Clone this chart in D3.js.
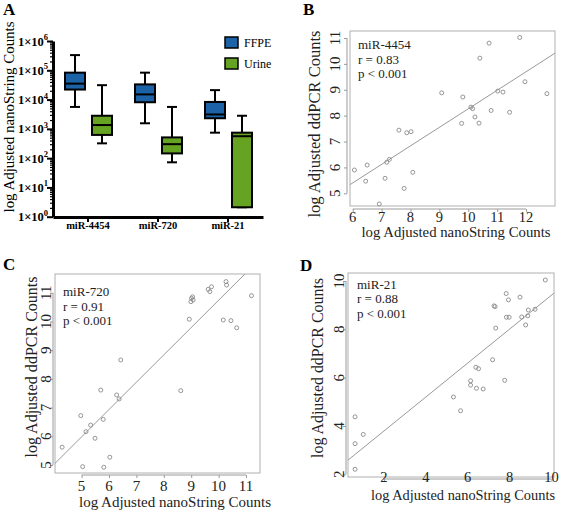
<!DOCTYPE html>
<html><head><meta charset="utf-8">
<script src="https://cdn.jsdelivr.net/npm/d3@7"></script>
<style>
body{margin:0;background:#fff}
svg{display:block}
text{font-family:"Liberation Serif","Times New Roman",serif}
</style>
</head><body>
<svg id="c" width="567" height="511"></svg>
<script>
// ---------- Panel A data ----------
const genes = ["miR-4454", "miR-720", "miR-21"];
const series = ["FFPE", "Urine"];
// [min, q1, median, q3, max] in adjusted counts
const ffpeStats = [[5600, 22000, 35000, 83000, 330000], [1550, 8100, 15000, 33000, 83000], [740, 2300, 3100, 8300, 21000]];
const urineStats = [[320, 620, 1350, 2800, 31000], [72, 145, 300, 510, 5600], [2.1, 2.1, 560, 740, 2800]];
const aTicks = [1, 10, 100, 1e3, 1e4, 1e5, 1e6];
const aTickExp = ["0", "1", "2", "3", "4", "5", "6"];
const seriesColors = ["#1b62a6", "#66a323"];

// ---------- Panel B data (miR-4454) ----------
const bX = [6.06, 6.50, 6.45, 6.92, 7.12, 7.18, 7.27, 7.60, 7.87, 8.02, 7.78, 8.08, 9.08, 9.81, 9.77, 10.09, 10.15, 10.23, 10.37, 10.40, 10.72, 10.79, 11.02, 11.20, 11.43, 11.78, 11.96, 12.72];
const bY = [5.90, 6.09, 5.47, 4.59, 5.58, 6.20, 6.31, 7.44, 7.34, 7.38, 5.19, 5.81, 8.88, 8.72, 7.70, 8.33, 8.27, 7.95, 7.71, 10.22, 10.80, 8.20, 8.95, 8.91, 8.13, 11.02, 9.31, 8.85];
const bXTicks = [6, 7, 8, 9, 10, 11, 12];
const bYTicks = [5, 6, 7, 8, 9, 10, 11];
const bFit = [1.105, 0.716];
const bText = ["miR-4454", "r = 0.83", "p < 0.001"];

// ---------- Panel C data (miR-720) ----------
const cX = [4.29, 4.97, 5.04, 5.16, 5.33, 5.49, 5.70, 5.79, 5.81, 6.03, 6.28, 6.37, 6.43, 8.62, 8.93, 8.99, 9.01, 9.05, 9.07, 9.62, 9.68, 9.74, 10.27, 10.29, 10.17, 10.45, 10.66, 11.20];
const cY = [5.62, 6.72, 4.94, 6.16, 6.39, 5.93, 7.61, 6.59, 4.92, 5.27, 7.44, 7.30, 8.66, 7.59, 10.08, 10.69, 10.81, 10.86, 10.75, 11.12, 11.04, 11.21, 11.39, 11.27, 10.05, 10.03, 9.78, 10.90];
const cXTicks = [5, 6, 7, 8, 9, 10, 11];
const cYTicks = [5, 6, 7, 8, 9, 10, 11];
const cFit = [1.22, 0.952];
const cText = ["miR-720", "r = 0.91", "p < 0.001"];

// ---------- Panel D data (miR-21) ----------
const dX = [0.62, 0.62, 1.01, 0.62, 5.32, 5.66, 6.14, 6.14, 6.42, 6.74, 6.39, 6.52, 7.19, 7.34, 7.26, 7.31, 7.77, 7.84, 7.95, 7.85, 7.98, 8.50, 8.58, 8.77, 8.87, 8.90, 9.22, 9.71];
const dY = [4.38, 3.27, 3.65, 2.21, 5.20, 4.63, 5.87, 5.69, 5.56, 5.53, 6.43, 6.37, 6.74, 8.05, 8.97, 8.94, 5.89, 9.48, 9.22, 8.50, 8.50, 9.33, 8.51, 8.18, 8.56, 8.80, 8.83, 10.04];
const dXTicks = [2, 4, 6, 8, 10];
const dYTicks = [2, 4, 6, 8, 10];
const dFit = [2.39, 0.702];
const dText = ["miR-21", "r = 0.88", "p < 0.001"];

const xTitle = "log Adjusted nanoString Counts";
const yTitleA = "log Adjusted nanoString Counts";
const yTitleS = "log Adjusted ddPCR Counts";

const svg = d3.select("#c");

// ================= Panel A =================
(function () {
  const g = svg.append("g");
  const y = d3.scaleLog().domain([1, 1e6]).range([216.7, 41]);
  const x = d3.scaleBand().domain(genes).range([53, 263]);
  const sub = d3.scalePoint().domain(series).range([-13, 14]);
  const bw = 20, cap = 10;

  g.append("text").attr("x", 3).attr("y", 15).attr("font-size", 17).attr("font-weight", "bold").text("A");

  const minors = [];
  for (let e = 0; e < 6; e++) for (let m = 2; m <= 9; m++) minors.push(m * Math.pow(10, e));
  g.append("g").attr("transform", "translate(53,0)")
    .call(d3.axisLeft(y).tickValues(minors).tickSize(3).tickFormat(""))
    .call(s => s.select(".domain").remove())
    .call(s => s.selectAll("line").attr("stroke", "#000").attr("stroke-width", 1.2));
  const ya = g.append("g").attr("transform", "translate(53,0)")
    .call(d3.axisLeft(y).tickValues(aTicks).tickSize(6).tickSizeOuter(0).tickFormat(""));
  ya.select(".domain").attr("stroke-width", 3).attr("stroke", "#000");
  ya.selectAll("line").attr("stroke", "#000").attr("stroke-width", 2);
  const tl = g.append("g").selectAll("text").data(aTicks).join("text")
    .attr("x", 48).attr("y", d => y(d) + 4.5).attr("text-anchor", "end")
    .attr("font-size", 12.5).attr("font-weight", "bold");
  tl.append("tspan").text("1×10");
  tl.append("tspan").attr("dy", -5.5).attr("font-size", 8.5).text((d, i) => aTickExp[i]);

  const xa = g.append("g").attr("transform", "translate(0,217)")
    .call(d3.axisBottom(x).tickSize(5).tickSizeOuter(0));
  xa.select(".domain").attr("stroke-width", 3).attr("stroke", "#000");
  xa.selectAll("line").attr("stroke", "#000").attr("stroke-width", 2);
  xa.selectAll("text").attr("y", 4).attr("dy", "0.75em").attr("font-size", 10.5).attr("font-weight", "bold")
    .attr("font-family", "'Liberation Serif',serif").attr("fill", "#000");

  g.append("text").attr("transform", "translate(14,117) rotate(-90)").attr("text-anchor", "middle")
    .attr("font-size", 15).attr("textLength", 191).attr("lengthAdjust", "spacingAndGlyphs").text(yTitleA);

  const boxes = [];
  genes.forEach((gn, i) => {
    boxes.push({ gene: gn, s: "FFPE", v: ffpeStats[i], c: seriesColors[0] });
    boxes.push({ gene: gn, s: "Urine", v: urineStats[i], c: seriesColors[1] });
  });
  const bg = g.append("g").selectAll("g").data(boxes).join("g")
    .attr("transform", d => `translate(${x(d.gene) + x.bandwidth() / 2 + sub(d.s)},0)`);
  bg.append("line").attr("y1", d => y(d.v[0])).attr("y2", d => y(d.v[4])).attr("stroke", "#000").attr("stroke-width", 2);
  bg.append("line").attr("x1", -cap / 2).attr("x2", cap / 2).attr("y1", d => y(d.v[0])).attr("y2", d => y(d.v[0])).attr("stroke", "#000").attr("stroke-width", 2);
  bg.append("line").attr("x1", -cap / 2).attr("x2", cap / 2).attr("y1", d => y(d.v[4])).attr("y2", d => y(d.v[4])).attr("stroke", "#000").attr("stroke-width", 2);
  bg.append("rect").attr("x", -bw / 2).attr("width", bw).attr("y", d => y(d.v[3])).attr("height", d => y(d.v[1]) - y(d.v[3]))
    .attr("fill", d => d.c).attr("stroke", "#000").attr("stroke-width", 2);
  bg.append("line").attr("x1", -bw / 2).attr("x2", bw / 2).attr("y1", d => y(d.v[2])).attr("y2", d => y(d.v[2])).attr("stroke", "#000").attr("stroke-width", 2);

  const lg = g.append("g").selectAll("g").data(series).join("g").attr("transform", (d, i) => `translate(225,${37 + i * 21})`);
  lg.append("rect").attr("width", 13).attr("height", 11).attr("fill", (d, i) => seriesColors[i]).attr("stroke", "#000").attr("stroke-width", 1.5);
  lg.append("text").attr("x", 19).attr("y", 10).attr("font-size", 12).text(d => d);
})();

// ================= Scatter panels =================
function scatter(cfg, xs, ys, xTicks, yTicks, fit, lines) {
  const g = svg.append("g");
  const [x0, y0, x1, y1] = cfg.box;
  const x = d3.scaleLinear().domain(cfg.xDom).range([x0, x1]);
  const y = d3.scaleLinear().domain(cfg.yDom).range([y1, y0]);
  const grey = "#9a9a9a";

  g.append("text").attr("x", cfg.letter[0]).attr("y", cfg.letter[1]).attr("font-size", 17).attr("font-weight", "bold").text(cfg.name);

  g.append("rect").attr("x", x0).attr("y", y0).attr("width", x1 - x0).attr("height", y1 - y0)
    .attr("fill", "none").attr("stroke", "#b0b0b0").attr("stroke-width", 1);

  const clipId = "clip" + cfg.name;
  g.append("clipPath").attr("id", clipId).append("rect").attr("x", x0).attr("y", y0).attr("width", x1 - x0).attr("height", y1 - y0);

  const ya = g.append("g").attr("transform", `translate(${cfg.axisX},0)`)
    .call(d3.axisLeft(y).tickValues(yTicks).tickSize(3).tickFormat(""));
  ya.select(".domain").attr("d", `M0,${y(yTicks[0])}V${y(yTicks[yTicks.length - 1])}`).attr("stroke", grey);
  ya.selectAll("line").attr("stroke", grey);
  g.append("g").selectAll("text").data(yTicks).join("text")
    .attr("transform", d => `translate(${cfg.yTickX},${y(d)}) rotate(-90)`)
    .attr("text-anchor", "middle").attr("font-size", 15).attr("fill", "#222").text(d => d);

  const xa = g.append("g").attr("transform", `translate(0,${cfg.axisY})`)
    .call(d3.axisBottom(x).tickValues(xTicks).tickSize(3).tickFormat(""));
  xa.select(".domain").attr("d", `M${x(xTicks[0])},0H${x(xTicks[xTicks.length - 1])}`).attr("stroke", grey);
  xa.selectAll("line").attr("stroke", grey);
  g.append("g").selectAll("text").data(xTicks).join("text")
    .attr("x", d => x(d)).attr("y", cfg.xTickY)
    .attr("text-anchor", "middle").attr("font-size", cfg.xTickSize || 15).attr("fill", "#222").text(d => d);

  g.append("text").attr("x", cfg.xTitle[0]).attr("y", cfg.xTitle[1]).attr("text-anchor", "middle")
    .attr("font-size", 15).attr("textLength", cfg.xTitle[2]).attr("lengthAdjust", "spacingAndGlyphs").attr("fill", "#222").text(xTitle);
  g.append("text").attr("transform", `translate(${cfg.yTitle[0]},${cfg.yTitle[1]}) rotate(-90)`).attr("text-anchor", "middle")
    .attr("font-size", 16).attr("textLength", cfg.yTitle[2]).attr("lengthAdjust", "spacingAndGlyphs").attr("fill", "#222").text(yTitleS);

  const fx = cfg.xDom;
  g.append("line").attr("clip-path", `url(#${clipId})`)
    .attr("x1", x(fx[0])).attr("y1", y(fit[0] + fit[1] * fx[0]))
    .attr("x2", x(fx[1])).attr("y2", y(fit[0] + fit[1] * fx[1]))
    .attr("stroke", "#999").attr("stroke-width", 1);

  g.append("g").selectAll("circle").data(xs.map((v, i) => [v, ys[i]])).join("circle")
    .attr("cx", d => x(d[0])).attr("cy", d => y(d[1])).attr("r", 2)
    .attr("fill", "none").attr("stroke", "#8a8a8a").attr("stroke-width", 0.9);

  g.append("g").selectAll("text").data(lines).join("text")
    .attr("x", cfg.ann[0]).attr("y", (d, i) => cfg.ann[1] + i * cfg.ann[2])
    .attr("font-size", 13).attr("fill", "#222").text(d => d);
}

scatter({ name: "B", letter: [303, 15], box: [350, 31, 555, 206], xDom: [5.907, 13.0], yDom: [4.51, 11.27],
  axisX: 347, axisY: 209, yTickX: 340, xTickY: 222, xTickSize: 14.5, xTitle: [456, 237, 189], yTitle: [320, 124, 187], ann: [358, 49, 14.5] },
  bX, bY, bXTicks, bYTicks, bFit, bText);

scatter({ name: "C", letter: [3, 270], box: [55, 274, 260, 473], xDom: [4.03, 11.51], yDom: [4.72, 11.655],
  axisX: 53, axisY: 475, yTickX: 51, xTickY: 491, xTitle: [175, 507, 192], yTitle: [37, 367, 181], ann: [63, 296, 14.5] },
  cX, cY, cXTicks, cYTicks, cFit, cText);

scatter({ name: "D", letter: [300, 271], box: [348, 273, 554, 477], xDom: [0.282, 10.125], yDom: [1.89, 10.33],
  axisX: 346, axisY: 479, yTickX: 344, xTickY: 482, xTickSize: 14.5, xTitle: [463, 499.5, 184], yTitle: [323, 368, 180], ann: [357, 289, 14.3] },
  dX, dY, dXTicks, dYTicks, dFit, dText);
</script>
</body></html>
